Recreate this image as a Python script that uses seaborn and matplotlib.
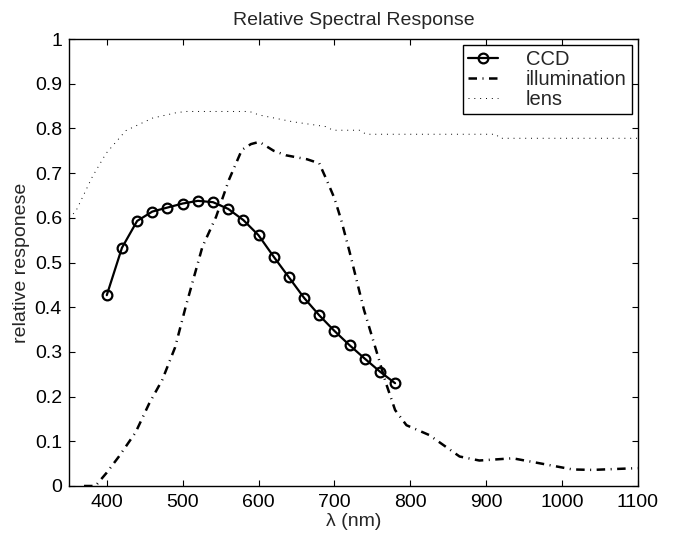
import matplotlib
matplotlib.use("Agg")
import matplotlib.pyplot as plt
import seaborn as sns

# ─────────────────────────────────────────────
# Data
# ─────────────────────────────────────────────
ccd_wl = [400, 420, 440, 460, 480, 500, 520, 540, 560, 580,
          600, 620, 640, 660, 680, 700, 720, 740, 760, 780]
ccd_resp = [0.427, 0.533, 0.593, 0.614, 0.623, 0.632, 0.638, 0.635, 0.620, 0.595,
            0.561, 0.513, 0.467, 0.421, 0.382, 0.347, 0.315, 0.285, 0.256, 0.230]

illum_wl = [370, 385, 390, 400, 416, 438, 456, 473, 490, 504, 526, 544, 561, 578,
            590, 601, 620, 636, 664, 680, 690, 700, 709, 720, 739, 755, 768, 780,
            795, 825, 865, 891, 935, 970, 1014, 1040, 1100]
illum_resp = [0.0, 0.0, 0.01, 0.03, 0.066, 0.12, 0.185, 0.237, 0.31, 0.401, 0.535, 0.602,
              0.685, 0.752, 0.765, 0.770, 0.750, 0.740, 0.731, 0.722, 0.684, 0.644, 0.595,
              0.524, 0.394, 0.304, 0.230, 0.170, 0.136, 0.114, 0.066, 0.057, 0.062, 0.051,
              0.037, 0.036, 0.040]

lens_wl = [350, 359, 381, 399, 425, 460, 491, 504, 588, 601, 645, 689, 698, 733,
           742, 913, 918, 1100]
lens_resp = [0.600, 0.614, 0.692, 0.744, 0.795, 0.823, 0.835, 0.838, 0.838, 0.830,
             0.815, 0.804, 0.796, 0.796, 0.787, 0.787, 0.778, 0.778]

x_ticks = [400, 500, 600, 700, 800, 900, 1000, 1100]
y_ticks = [0, 0.1, 0.2, 0.3, 0.4, 0.5, 0.6, 0.7, 0.8, 0.9, 1]
y_tick_labels = ["0", "0.1", "0.2", "0.3", "0.4", "0.5", "0.6", "0.7", "0.8", "0.9", "1"]

# ─────────────────────────────────────────────
# Style
# ─────────────────────────────────────────────
sns.set_theme(style="ticks", rc={
    "xtick.direction": "in", "ytick.direction": "in",
    "xtick.top": True, "ytick.right": True,
    "xtick.major.size": 4, "ytick.major.size": 4,
    "xtick.major.width": 0.8, "ytick.major.width": 0.8,
    "axes.linewidth": 1.0, "axes.edgecolor": "black",
})
plt.rcParams["font.family"] = ["Liberation Sans", "DejaVu Sans"]

fig = plt.figure(figsize=(6.75, 5.35), dpi=100)
ax = fig.add_axes([0.102, 0.0916, 0.843, 0.8354])

sns.lineplot(x=ccd_wl, y=ccd_resp, ax=ax, color="black", lw=1.6, marker="o",
             markersize=7, markerfacecolor="none", markeredgecolor="black",
             markeredgewidth=1.6, estimator=None, sort=False, label="CCD")
sns.lineplot(x=illum_wl, y=illum_resp, ax=ax, color="black", lw=1.8,
             linestyle=(0, (3.4, 2.2, 0.4, 2.2)), estimator=None, sort=False,
             label="illumination")
sns.lineplot(x=lens_wl, y=lens_resp, ax=ax, color="black", lw=0.7,
             linestyle=(0, (1, 5)), estimator=None, sort=False, label="lens")

ax.set_xlim(350, 1100)
ax.set_ylim(0, 1)
ax.set_xticks(x_ticks)
ax.set_xticklabels([str(t) for t in x_ticks], fontsize=14)
ax.set_yticks(y_ticks)
ax.set_yticklabels(y_tick_labels, fontsize=14)
ax.tick_params(axis="x", pad=6, colors="black")
ax.tick_params(axis="y", pad=5, colors="black")

ax.set_title("Relative Spectral Response", fontsize=14, pad=10)
ax.set_xlabel("λ (nm)", fontsize=14, labelpad=1)
ax.set_ylabel("relative responese", fontsize=14, labelpad=3)

leg = ax.legend(loc="upper right", fontsize=14.5, frameon=True, fancybox=False,
                edgecolor="black", framealpha=1, handlelength=1.5,
                handletextpad=1.4, labelspacing=0.05, borderpad=0.25,
                borderaxespad=0.3)
leg.get_frame().set_linewidth(1.0)

fig.savefig("out.png", dpi=100)
plt.close(fig)
